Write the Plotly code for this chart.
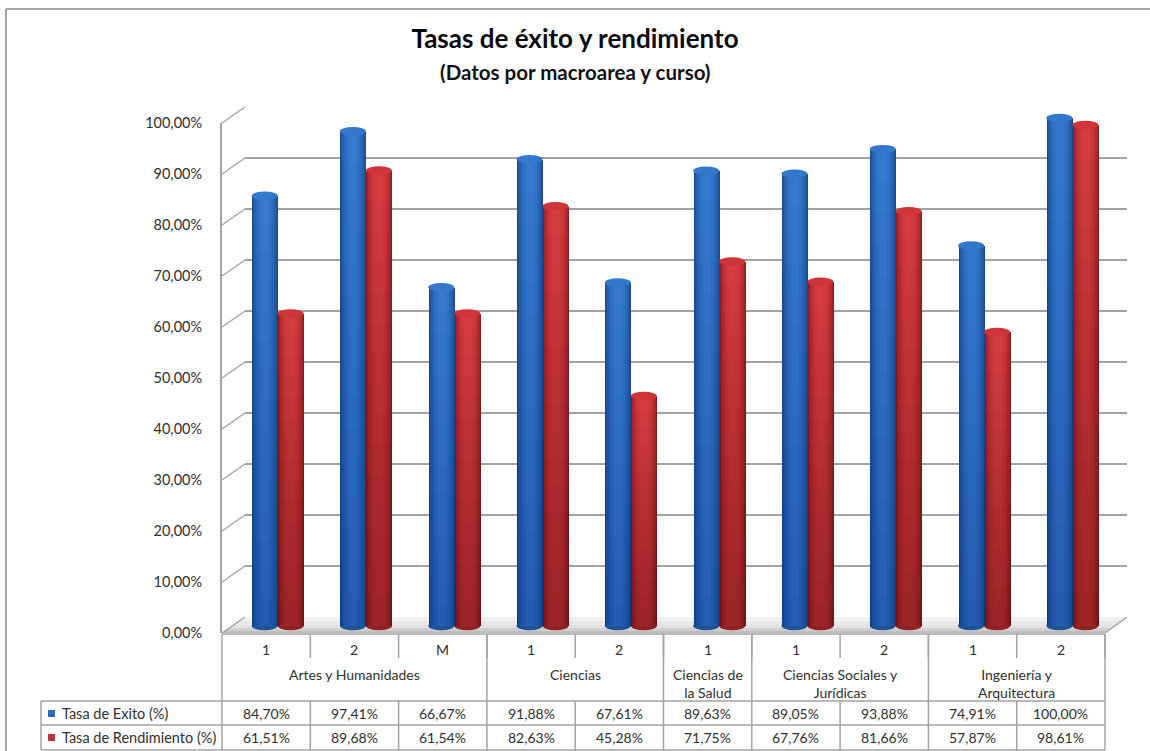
import plotly.graph_objects as go

W, H = 1150, 751
FONT = "Lato"
TXT = "#303030"
LINE = "#A3A3A3"

# ---- data ----
groups = ["Artes y Humanidades", "Ciencias", "Ciencias de<br>la Salud",
          "Ciencias Sociales y<br>Jurídicas", "Ingeniería y<br>Arquitectura"]
group_sizes = [3, 2, 1, 2, 2]
cursos = ["1", "2", "M", "1", "2", "1", "1", "2", "1", "2"]
exito = [84.70, 97.41, 66.67, 91.88, 67.61, 89.63, 89.05, 93.88, 74.91, 100.00]
rendimiento = [61.51, 89.68, 61.54, 82.63, 45.28, 71.75, 67.76, 81.66, 57.87, 98.61]
series_names = ["Tasa de Exito (%)", "Tasa de Rendimiento (%)"]
ticks = [0, 10, 20, 30, 40, 50, 60, 70, 80, 90, 100]

# ---- pixel helpers ----
px = lambda x: x / W
py = lambda y: 1 - y / H
fmt = lambda v: f"{v:.2f}%".replace(".", ",")
TL, TR = 222, 1105            # table / front floor edge
COL = (TR - TL) / len(cursos)
SHIFT_X, BACK_X = 11.5, 23

# bar axis: value 0 at 626 px and 100 at 118 px, with room round it
k = (626 - 118) / 100
r0, r1 = -3.5, 105
bar_dom = [py(626 - r0 * k), py(626 - r1 * k)]

fig = go.Figure()

# cylinder shading: nested strips (inset in px, colour)
bw = 26 / COL
blue_strips = [(0, "#1B4A8C"), (1, "#215699"), (2, "#2660AB"), (4, "#2B6ABA"), (6, "#2F72C6"), (9, "#3379CE")]
red_strips = [(0, "#8A1D22"), (1, "#A0252A"), (2, "#B22B30"), (4, "#C23237"), (6, "#CD383C"), (9, "#D33D40")]
dark_blue = "rgba(10,30,70,0.012)"
dark_red = "rgba(60,0,5,0.024)"
fade = [f / 15 for f in range(14, 0, -1)]

for vals, name, strips, dark, off in [
    (exito, series_names[0], blue_strips, dark_blue, -bw),
    (rendimiento, series_names[1], red_strips, dark_red, 0.0),
]:
    for inset, col in strips:
        i = inset / COL
        fig.add_trace(go.Bar(x=list(range(len(vals))), y=vals, name=name, xaxis="x3", yaxis="y3",
                             width=bw - 2 * i, offset=off + i, marker=dict(color=col, line=dict(width=0)),
                             showlegend=False, hoverinfo="skip"))
    for f in fade:
        fig.add_trace(go.Bar(x=list(range(len(vals))), y=[v * f for v in vals], xaxis="x3", yaxis="y3",
                             width=bw, offset=off, marker=dict(color=dark, line=dict(width=0)),
                             showlegend=False, hoverinfo="skip"))

shapes = []
def line(x0, y0, x1, y1, c=LINE, w=1.5):
    shapes.append(dict(type="line", xref="paper", yref="paper", x0=px(x0), y0=py(y0), x1=px(x1), y1=py(y1),
                       line=dict(color=c, width=w), layer="below"))

# outer frame
line(6, 9, W, 9, "#A6A6A6", 2)
line(6, 9, 6, H, "#A6A6A6", 2)

# floor with soft bands
def floor(yb, yf, c):
    xb = 245 - (yb - 617) * BACK_X / 16
    xf = 245 - (yf - 617) * BACK_X / 16
    path = (f"M {px(xb)} {py(yb)} L {px(xb + 882)} {py(yb)} L {px(xf + 882)} {py(yf)} L {px(xf)} {py(yf)} Z")
    shapes.append(dict(type="path", xref="paper", yref="paper", path=path, fillcolor=c, line=dict(width=0), layer="below"))
floor(617, 633, "#E2E2E2")
floor(617, 621, "#F0F0F0")
floor(621, 625, "#E8E8E8")
floor(628, 631, "#CFCFCF")
floor(631, 633, "#BDBDBD")

# side wall diagonals
for t in ticks:
    line(222, 633 - t * 5.10, 245, 617 - t * 5.10)
line(1105, 633, 1127, 617)

# bar tops and bases
eh = 4.2 / k
for vals, off, top, base in [(exito, -bw, "#3478CC", "#1F5299"), (rendimiento, 0.0, "#CF3538", "#8F2024")]:
    for i, v in enumerate(vals):
        shapes.append(dict(type="circle", xref="x3", yref="y3", x0=i + off, x1=i + off + bw, y0=v - eh, y1=v + eh,
                           fillcolor=top, line=dict(width=0), layer="above"))
        shapes.append(dict(type="circle", xref="x3", yref="y3", x0=i + off, x1=i + off + bw, y0=-eh, y1=eh,
                           fillcolor=base, line=dict(width=0), layer="below"))

# table
Y0, Y1, Y2, Y3 = 634, 701, 725, 750
line(TL, Y0, TR, Y0)
line(41, Y1, TR, Y1)
line(41, Y2, TR, Y2)
line(41, Y3, TR, Y3)
line(41, Y1, 41, Y3)
line(TL, Y0, TL, Y3)
for i in range(1, len(cursos) + 1):
    line(TL + i * COL, Y1, TL + i * COL, Y3)
    line(TL + i * COL, Y0, TL + i * COL, 658)
pos = 0
for s in group_sizes:
    pos += s
    line(TL + pos * COL, Y0, TL + pos * COL, Y1)

annotations = []
def text(x, y, t, size=14, anchor="center", **kw):
    annotations.append(dict(xref="paper", yref="paper", x=px(x), y=py(y), text=t, showarrow=False, xanchor=anchor,
                            yanchor="middle", font=dict(family=FONT, size=size, color=kw.pop("color", TXT)), **kw))

text(575, 72, "<b>(Datos por macroarea y curso)</b>", 20.5, color="#111111")
for i, c in enumerate(cursos):
    cx = TL + (i + 0.5) * COL
    text(cx, 649, c)
    text(cx, 713, fmt(exito[i]))
    text(cx, 737, fmt(rendimiento[i]))
pos = 0
for g, s in zip(groups, group_sizes):
    cx = TL + (pos + s / 2) * COL
    text(cx, 674 if "<br>" not in g else 683, g, 14)
    pos += s
for y, name, c in [(713, series_names[0], "#2B6ABA"), (737, series_names[1], "#C23237")]:
    text(60, y, name, 14.5, "left")
    shapes.append(dict(type="rect", xref="paper", yref="paper", x0=px(48), x1=px(55), y0=py(y + 4), y1=py(y - 3),
                       fillcolor=c, line=dict(width=0), layer="above"))

hidden_x = dict(visible=False, fixedrange=True, automargin=False)
fig.update_layout(
    width=W, height=H, autosize=False, margin=dict(l=0, r=0, t=0, b=0, pad=0),
    paper_bgcolor="white", plot_bgcolor="rgba(0,0,0,0)",
    barmode="overlay", bargap=0,
    title=dict(text="<b>Tasas de éxito y rendimiento</b>", x=575 / W, xanchor="center", y=py(39), yanchor="middle",
               automargin=False, font=dict(family=FONT, size=26, color="#0A0A0A")),
    font=dict(family=FONT, color=TXT),
    # front axis: carries the tick labels
    xaxis=dict(domain=[px(222), px(1105)], range=[0, 1], anchor="y", **hidden_x),
    yaxis=dict(domain=[py(633), py(123)], range=[0, 100], anchor="x", tickmode="array", tickvals=ticks,
               ticktext=[fmt(t) for t in ticks], automargin=False,
               ticklabelstandoff=15, ticks="", showgrid=False, zeroline=False, showline=True, linecolor=LINE, linewidth=2,
               tickfont=dict(family=FONT, size=14.5, color=TXT), fixedrange=True),
    # back wall: carries the gridlines
    xaxis2=dict(domain=[px(245), px(1127)], range=[0, 1], anchor="y2", **hidden_x),
    yaxis2=dict(domain=[py(617), py(107)], range=[0, 100], anchor="x2", tickvals=ticks, showticklabels=False, ticks="",
                automargin=False, showgrid=True, gridcolor=LINE, gridwidth=1.5, zeroline=False, showline=False, fixedrange=True),
    # bars
    xaxis3=dict(domain=[px(TL + SHIFT_X), px(TR + SHIFT_X)], range=[-0.5, len(cursos) - 0.5], anchor="y3", **hidden_x),
    yaxis3=dict(domain=bar_dom, range=[r0, r1], anchor="x3", visible=False, fixedrange=True, automargin=False),
    shapes=shapes, annotations=annotations,
)
# force the helper subplots to exist even without traces
fig.add_trace(go.Scatter(x=[], y=[], xaxis="x", yaxis="y", showlegend=False))
fig.add_trace(go.Scatter(x=[], y=[], xaxis="x2", yaxis="y2", showlegend=False))
fig.write_html("out.html", post_script="document.body.style.margin='0';", config={"displayModeBar": False})
